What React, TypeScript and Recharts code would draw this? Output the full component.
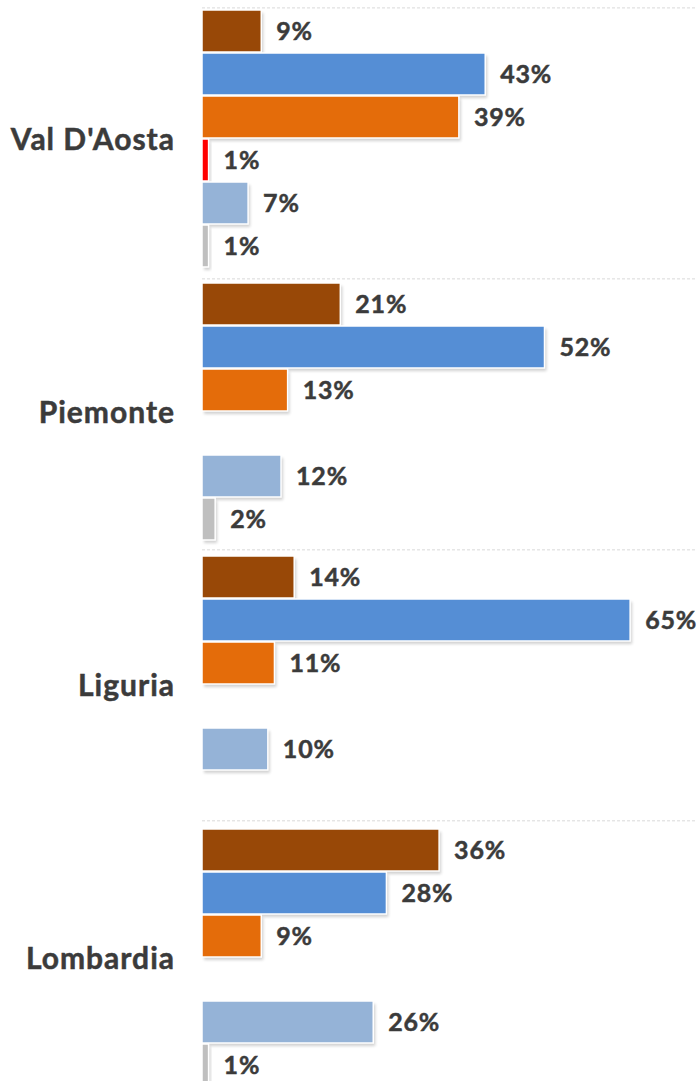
import React from 'react';
import { BarChart, Bar, XAxis, YAxis, CartesianGrid, LabelList } from 'recharts';

const regions = ["Val D'Aosta", 'Piemonte', 'Liguria', 'Lombardia'];
const serie1 = [9, 21, 14, 36];
const serie2 = [43, 52, 65, 28];
const serie3 = [39, 13, 11, 9];
const serie4: (number | null)[] = [1, null, null, null];
const serie5 = [7, 12, 10, 26];
const serie6: (number | null)[] = [1, 2, null, 1];

const seriesKeys = ['s1', 's2', 's3', 's4', 's5', 's6'];
const seriesColors = ['#984807', '#558ED5', '#E46C0A', '#FF0000', '#95B3D7', '#BFBFBF'];
const gridTicks = [0, 1, 2, 3];

const data = regions.map((r, i) => ({
  region: r,
  s1: serie1[i],
  s2: serie2[i],
  s3: serie3[i],
  s4: serie4[i],
  s5: serie5[i],
  s6: serie6[i],
}));

const FONT = "Lato, 'Open Sans', sans-serif";
const TEXT = '#3B3B3B';

const ShadowBar = (props: any) => {
  const { x, y, width, height, fill } = props;
  if (x == null || !width || !height) return null;
  return (
    <g>
      <rect x={x + 2} y={y + 3} width={width} height={height} fill="#000" opacity={0.18} filter="url(#barShadow)" />
      <rect x={x} y={y} width={width} height={height} fill={fill} stroke="#FFFFFF" strokeWidth={1.5} />
    </g>
  );
};

const fmt = (v: any) => (v == null ? '' : `${v}%`);

// grid lines sit near the category boundaries (slightly tighter spacing than the bands)
const gridGenerator = ({ offset }: any) =>
  gridTicks.map((t) => offset.top + (t + 0.02) * (offset.height / 4.03));

export default function App() {
  return (
    <div style={{ position: 'fixed', left: 0, top: 0, width: 698, height: 1081, overflow: 'hidden', background: '#fff' }}>
      <BarChart
        width={698}
        height={1100}
        data={data}
        layout="vertical"
        margin={{ top: 2.5, right: 2, bottom: 5.5, left: 0 }}
        barGap={1}
        barCategoryGap={7.5}
      >
        <defs>
          <filter id="barShadow" x="-20%" y="-20%" width="140%" height="140%">
            <feGaussianBlur stdDeviation="1.5" />
          </filter>
        </defs>
        <XAxis type="number" domain={[0, 75]} hide allowDataOverflow />
        <YAxis
          type="category"
          dataKey="region"
          width={202}
          axisLine={false}
          tickLine={false}
          tickSize={0}
          tickMargin={27}
          tick={{ fontFamily: FONT, fontSize: 30, fontWeight: 700, fill: TEXT, letterSpacing: 1, stroke: TEXT, strokeWidth: 0.5 }}
        />
        <CartesianGrid
          vertical={false}
          stroke="#D9D9D9"
          strokeDasharray="3 2"
          horizontalCoordinatesGenerator={gridGenerator}
        />
        {seriesKeys.map((k, i) => (
          <Bar
            key={k}
            dataKey={k}
            fill={seriesColors[i]}
            isAnimationActive={false}
            shape={ShadowBar}
          >
            <LabelList
              dataKey={k}
              position="right"
              offset={15}
              formatter={fmt}
              style={{ fontFamily: FONT, fontSize: 25, fontWeight: 700, fill: TEXT, letterSpacing: 0.8, stroke: TEXT, strokeWidth: 0.5 }}
            />
          </Bar>
        ))}
      </BarChart>
    </div>
  );
}
